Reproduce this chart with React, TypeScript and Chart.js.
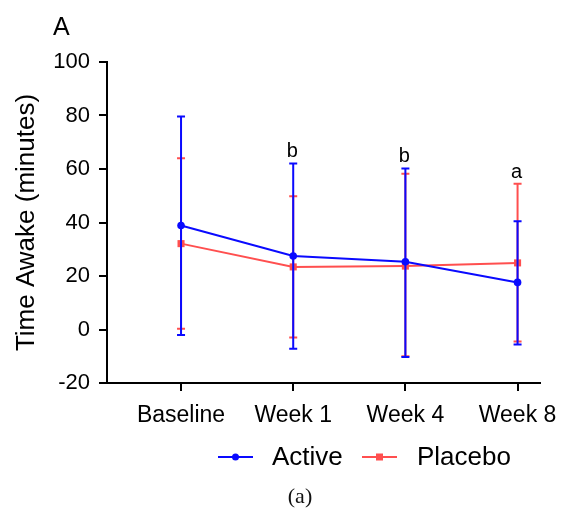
import React, { useEffect, useRef } from 'react';
import { Chart, registerables } from 'chart.js';

Chart.register(...registerables);

const categories = ['Baseline', 'Week 1', 'Week 4', 'Week 8'];
const activeMean = [38.9, 27.5, 25.3, 17.6];
const activeUpper = [79.6, 62.1, 60.2, 40.5];
const activeLower = [-2.1, -7.2, -10.3, -5.6];
const placeboMean = [32.1, 23.4, 23.7, 24.9];
const placeboUpper = [64.0, 49.8, 58.2, 54.5];
const placeboLower = [0.3, -3.0, -10.0, -4.5];
const sigLetters = ['', 'b', 'b', 'a'];
const yTickValues = [-20, 0, 20, 40, 60, 80, 100];

const BLUE = '#0a0aff';
const RED = '#ff4f4f';
const SANS = '"Liberation Sans", Arial, Helvetica, sans-serif';

const errorRanges: Record<string, { upper: number[]; lower: number[] }> = {
  Active: { upper: activeUpper, lower: activeLower },
  Placebo: { upper: placeboUpper, lower: placeboLower },
};

const errorBarPlugin = {
  id: 'errorBars',
  beforeDatasetDraw(chart: any, args: any) {
    const ds = chart.data.datasets[args.index];
    const range = errorRanges[ds.label];
    if (!range) return;
    const yScale = chart.scales.y;
    const ctx = chart.ctx;
    ctx.save();
    ctx.strokeStyle = ds.borderColor;
    ctx.lineWidth = 2;
    args.meta.data.forEach((pt: any, i: number) => {
      const x = pt.x;
      const yt = yScale.getPixelForValue(range.upper[i]);
      const yb = yScale.getPixelForValue(range.lower[i]);
      ctx.beginPath();
      ctx.moveTo(x, yt);
      ctx.lineTo(x, yb);
      ctx.moveTo(x - 4, yt);
      ctx.lineTo(x + 4, yt);
      ctx.moveTo(x - 4, yb);
      ctx.lineTo(x + 4, yb);
      ctx.stroke();
    });
    ctx.restore();
  },
};

const decorPlugin = {
  id: 'decor',
  afterDraw(chart: any) {
    const ctx = chart.ctx;
    const xScale = chart.scales.x;
    const yScale = chart.scales.y;
    const area = chart.chartArea;
    ctx.save();
    ctx.fillStyle = '#000';

    // Panel letter
    ctx.font = `25px ${SANS}`;
    ctx.textAlign = 'left';
    ctx.textBaseline = 'alphabetic';
    ctx.fillText('A', 53, 35);

    // Y axis title
    ctx.save();
    ctx.translate(34, (area.top + area.bottom) / 2);
    ctx.rotate(-Math.PI / 2);
    ctx.font = `26px ${SANS}`;
    ctx.textAlign = 'center';
    ctx.textBaseline = 'alphabetic';
    ctx.fillText('Time Awake (minutes)', 0, 0);
    ctx.restore();

    // Significance letters
    ctx.font = `20px ${SANS}`;
    ctx.textAlign = 'center';
    ctx.textBaseline = 'alphabetic';
    sigLetters.forEach((s, i) => {
      if (!s) return;
      const top = Math.max(activeUpper[i], placeboUpper[i]);
      const x = xScale.getPixelForValue(i);
      const y = yScale.getPixelForValue(top) - 6;
      ctx.fillText(s, x - 1, y);
    });

    // Legend
    const ly = 457;
    ctx.lineWidth = 2;
    ctx.strokeStyle = BLUE;
    ctx.beginPath();
    ctx.moveTo(218, ly);
    ctx.lineTo(253, ly);
    ctx.stroke();
    ctx.fillStyle = BLUE;
    ctx.beginPath();
    ctx.arc(235.5, ly, 3.5, 0, Math.PI * 2);
    ctx.fill();

    ctx.strokeStyle = RED;
    ctx.beginPath();
    ctx.moveTo(362, ly);
    ctx.lineTo(397, ly);
    ctx.stroke();
    ctx.fillStyle = RED;
    ctx.fillRect(379.5 - 3.5, ly - 3.5, 7, 7);

    ctx.fillStyle = '#000';
    ctx.font = `26px ${SANS}`;
    ctx.textAlign = 'left';
    ctx.fillText('Active', 272, 465);
    ctx.fillText('Placebo', 417, 465);

    // Caption
    ctx.font = `22px "Liberation Serif", "Times New Roman", serif`;
    ctx.textAlign = 'center';
    ctx.fillStyle = '#111';
    ctx.fillText('(a)', 300, 503);

    ctx.restore();
  },
};

export default function App() {
  const canvasRef = useRef<HTMLCanvasElement | null>(null);

  useEffect(() => {
    const canvas = canvasRef.current;
    if (!canvas) return;
    const chart = new Chart(canvas, {
      type: 'line',
      data: {
        datasets: [
          {
            label: 'Active',
            data: activeMean.map((v, i) => ({ x: i, y: v })),
            borderColor: BLUE,
            backgroundColor: BLUE,
            borderWidth: 2,
            pointStyle: 'circle',
            pointRadius: 3.8,
            pointBorderWidth: 0,
            tension: 0,
          },
          {
            label: 'Placebo',
            data: placeboMean.map((v, i) => ({ x: i, y: v })),
            borderColor: RED,
            backgroundColor: RED,
            borderWidth: 2,
            pointStyle: 'rect',
            pointRadius: 5,
            pointBorderWidth: 0,
            tension: 0,
          },
        ],
      },
      options: {
        responsive: false,
        animation: false,
        devicePixelRatio: 1,
        layout: { padding: { left: 0, right: 40, top: 62, bottom: 0 } },
        plugins: {
          legend: { display: false },
          tooltip: { enabled: false },
          title: { display: false },
        },
        scales: {
          x: {
            type: 'linear',
            min: -0.66,
            max: 3.2,
            afterBuildTicks: (scale: any) => {
              scale.ticks = categories.map((_, i) => ({ value: i }));
            },
            afterFit: (scale: any) => {
              scale.height = 127;
            },
            ticks: {
              callback: (v: any) => categories[v] ?? '',
              color: '#000',
              font: { family: SANS, size: 23 },
              padding: 11,
              maxRotation: 0,
              autoSkip: false,
            },
            grid: {
              display: true,
              drawOnChartArea: false,
              drawTicks: true,
              tickLength: 8,
              color: '#000',
              lineWidth: 2,
            },
            border: { display: true, color: '#000', width: 2 },
          },
          y: {
            type: 'linear',
            min: -20,
            max: 100,
            afterBuildTicks: (scale: any) => {
              scale.ticks = yTickValues.map((v) => ({ value: v }));
            },
            afterFit: (scale: any) => {
              scale.width = 107;
            },
            ticks: {
              color: '#000',
              font: { family: SANS, size: 22 },
              padding: 9,
            },
            grid: {
              display: true,
              drawOnChartArea: false,
              drawTicks: true,
              tickLength: 8,
              color: '#000',
              lineWidth: 2,
            },
            border: { display: true, color: '#000', width: 2 },
          },
        },
      },
      plugins: [errorBarPlugin, decorPlugin],
    } as any);
    return () => chart.destroy();
  }, []);

  return (
    <div style={{ position: 'absolute', left: 0, top: 0, width: 580, height: 510, background: '#fff' }}>
      <canvas ref={canvasRef} width={580} height={510} style={{ display: 'block', width: 580, height: 510 }} />
    </div>
  );
}
